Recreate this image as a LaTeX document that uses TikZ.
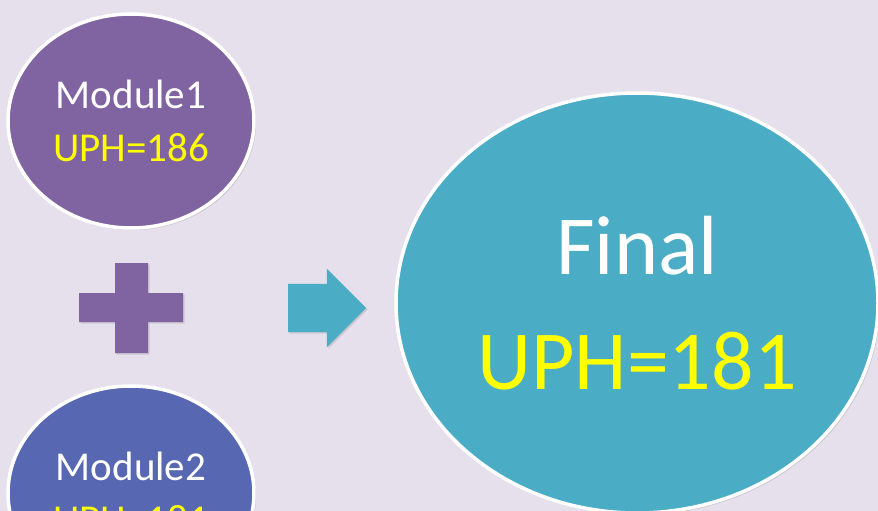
\documentclass[tikz,border=0pt]{standalone}
\usepackage{fontspec}
\setmainfont{Carlito}
\usetikzlibrary{shapes.geometric,shapes.arrows,shadows}

\definecolor{bgcol}{HTML}{E5E0EC}
\definecolor{modpurple}{HTML}{8064A2}
\definecolor{modblue}{HTML}{5767B2}
\definecolor{finalteal}{HTML}{4BACC6}
\definecolor{uphyellow}{HTML}{FFFF00}

\tikzset{
  modcircle/.style={ellipse, draw=white, line width=3.5pt, inner sep=0pt,
    minimum width=246pt, minimum height=214pt, text=white, align=center,
    font=\fontsize{41}{53}\selectfont,
    drop shadow={shadow xshift=2pt, shadow yshift=-2pt, opacity=0.25}},
  bigcircle/.style={modcircle, minimum width=482pt, minimum height=420pt,
    font=\fontsize{84}{115}\selectfont},
  uph/.style={text=uphyellow}
}

\begin{document}
\begin{tikzpicture}[x=1pt,y=-1pt]
\fill [bgcol] (0,0) rectangle (878,511);
\clip (0,0) rectangle (878,511);
% modules
\node [modcircle, fill=modpurple] (mod1) at (131,121) {Module1\\\textcolor{uphyellow}{UPH=186}};
\node [modcircle, fill=modblue] (mod2) at (131,493) {Module2\\\textcolor{uphyellow}{UPH=181}};
% plus sign
\fill [modpurple, drop shadow={shadow xshift=1.5pt, shadow yshift=-1.5pt, opacity=0.25}]
  (115,263) -- (148,263) -- (148,293) -- (183,293) -- (183,322) -- (148,322)
  -- (148,353) -- (115,353) -- (115,322) -- (79,322) -- (79,293) -- (115,293) -- cycle;
% arrow
\node [single arrow, fill=finalteal, inner xsep=0pt, inner ysep=24pt,
  minimum height=78pt, single arrow head extend=15pt,
  drop shadow={shadow xshift=1.5pt, shadow yshift=-1.5pt, opacity=0.25}] (go) at (315,308) {};
% result
\node [bigcircle, fill=finalteal] (final) at (637,303) {Final\\\textcolor{uphyellow}{UPH=181}};
\end{tikzpicture}
\end{document}
